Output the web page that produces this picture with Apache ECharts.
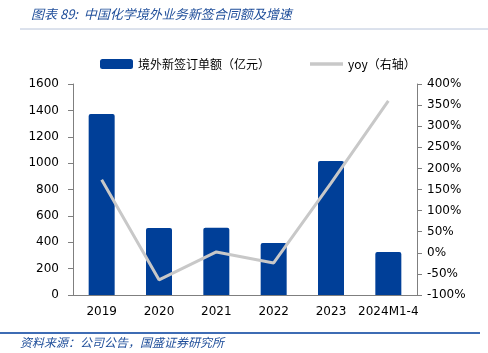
<!DOCTYPE html>
<html>
<head>
<meta charset="utf-8">
<script src="https://cdn.jsdelivr.net/npm/echarts@6/dist/echarts.min.js"></script>
<style>
  html, body { margin: 0; padding: 0; background: #fff; }
  #main { width: 488px; height: 353px; }
</style>
</head>
<body>
<div id="main"></div>
<script>
// data
const categories = ["2019", "2020", "2021", "2022", "2023", "2024M1-4"];
const orderValues = [1372, 508, 510, 394, 1016, 326];
const yoyValues = [173, -64, 2, -24, 165, 360];

const barName = "境外新签订单额（亿元）";
const lineName = "yoy（右轴）";

const tickFont = "DejaVu Sans";
const blue = "#1F4E9A";

let myChart = echarts.init(document.getElementById("main"));
let option = {
  animation: false,
  textStyle: { fontFamily: tickFont },
  grid: { left: 73, right: 71, top: 84, bottom: 58 },
  legend: {
    top: 53,
    left: 95,
    itemGap: 40,
    itemWidth: 33,
    itemHeight: 10,
    textStyle: { fontSize: 12, color: "#000", fontFamily: "Noto Sans CJK SC" },
    data: [
      { name: barName, icon: "roundRect" },
      { name: lineName, icon: "path://M0,0 L40,0 L40,4 L0,4 Z", itemStyle: { color: "#C8C8C8" } }
    ]
  },
  graphic: [
    {
      type: "text",
      left: 31,
      top: 8,
      style: {
        text: "图表 89:  中国化学境外业务新签合同额及增速",
        fill: blue,
        font: "italic 13px 'Noto Sans CJK SC'"
      }
    },
    {
      type: "line",
      shape: { x1: 20, y1: 29, x2: 488, y2: 29 },
      style: { stroke: "#B8C4DA", lineWidth: 1 }
    },
    {
      type: "line",
      shape: { x1: 0, y1: 333, x2: 480, y2: 333 },
      style: { stroke: "#3E6CB4", lineWidth: 2 }
    },
    {
      type: "text",
      left: 20,
      top: 336,
      style: {
        text: "资料来源：公司公告，国盛证券研究所",
        fill: blue,
        font: "italic 12px 'Noto Sans CJK SC'"
      }
    }
  ],
  xAxis: {
    type: "category",
    data: categories,
    axisLine: { lineStyle: { color: "#7F7F7F" } },
    axisTick: { inside: true, length: 4, lineStyle: { color: "#7F7F7F" } },
    axisLabel: { color: "#000", fontSize: 12, margin: 11, interval: 0 }
  },
  yAxis: [
    {
      type: "value",
      min: 0,
      max: 1600,
      interval: 200,
      splitLine: { show: false },
      axisLine: { show: true, lineStyle: { color: "#7F7F7F" } },
      axisTick: { show: true, length: 5, lineStyle: { color: "#7F7F7F" } },
      axisLabel: { color: "#000", fontSize: 12, margin: 14, formatter: (v) => String(v) }
    },
    {
      type: "value",
      min: -100,
      max: 400,
      interval: 50,
      splitLine: { show: false },
      axisLine: { show: true, lineStyle: { color: "#7F7F7F" } },
      axisTick: { show: true, length: 5, lineStyle: { color: "#7F7F7F" } },
      axisLabel: { color: "#000", fontSize: 12, margin: 10, formatter: "{value}%" }
    }
  ],
  series: [
    {
      name: barName,
      type: "bar",
      data: orderValues,
      barWidth: 26,
      itemStyle: { color: "#003F98", borderRadius: [2, 2, 0, 0] }
    },
    {
      name: lineName,
      type: "line",
      yAxisIndex: 1,
      data: yoyValues,
      symbol: "none",
      lineStyle: { color: "#C8C8C8", width: 3 },
      itemStyle: { color: "#C8C8C8" }
    }
  ]
};
myChart.setOption(option);
</script>
</body>
</html>
